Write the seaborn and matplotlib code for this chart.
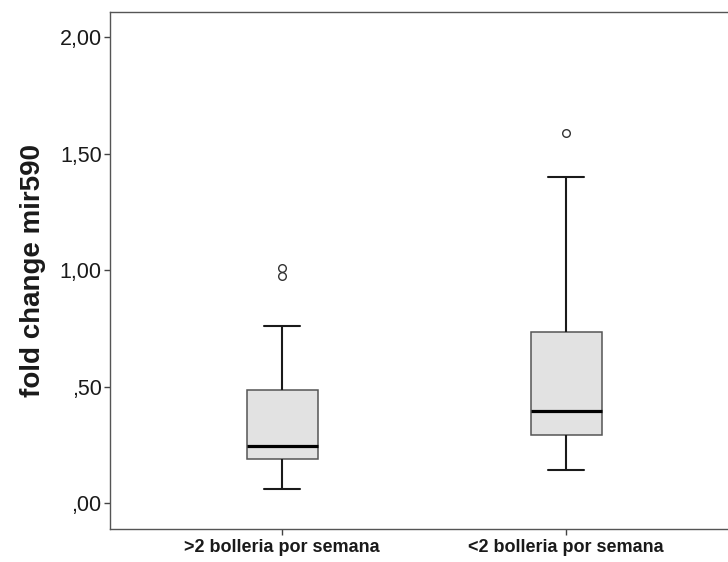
import numpy as np
import pandas as pd
import matplotlib
matplotlib.use("Agg")
import matplotlib.pyplot as plt
import seaborn as sns

# Groups on the x axis
groups = [">2 bolleria por semana", "<2 bolleria por semana"]

# Box summaries per group: lower whisker, Q1, median, Q3, upper whisker
whisker_low = [0.06, 0.142]
q1 = [0.189, 0.29]
median = [0.245, 0.395]
q3 = [0.485, 0.735]
whisker_high = [0.76, 1.40]
outliers = [[0.974, 1.009], [1.588]]

# Y axis ticks and their labels
y_ticks = [0.0, 0.5, 1.0, 1.5, 2.0]
y_tick_labels = [",00", ",50", "1,00", "1,50", "2,00"]


def expand(lo, a, m, b, hi, extra):
    """Sample whose Tukey box statistics equal the given summary."""
    return [lo] + [a] * 3 + [m] * 3 + [b] * 3 + [hi] + list(extra)


rows = []
for i, g in enumerate(groups):
    vals = expand(whisker_low[i], q1[i], median[i], q3[i], whisker_high[i], outliers[i])
    rows += [(g, v) for v in vals]
df = pd.DataFrame(rows, columns=["grupo", "fold"])

sns.set_style("white")
plt.rcParams["font.family"] = ["Liberation Sans", "DejaVu Sans"]

fig = plt.figure(figsize=(7.28, 5.62), dpi=100)
ax = fig.add_axes([110 / 728, 1 - 529 / 562, 630 / 728, (529 - 12) / 562])

sns.boxplot(
    data=df, x="grupo", y="fold", order=groups, ax=ax,
    width=0.25, whis=1.5, color="#e2e2e2", saturation=1,
    linewidth=1.2, linecolor="#444444",
    boxprops=dict(facecolor="#e2e2e2", edgecolor="#555555", linewidth=1.1),
    whiskerprops=dict(color="#1a1a1a", linewidth=1.5),
    capprops=dict(color="#1a1a1a", linewidth=1.5),
    medianprops=dict(color="black", linewidth=2.3),
    flierprops=dict(marker="o", markersize=5.5, markerfacecolor="white",
                    markeredgecolor="#333333", markeredgewidth=1.0),
)

ax.set_xlim(-172 / 284, 458 / 284)
ax.set_ylim(-26 / 233, 491 / 233)
ax.set_yticks(y_ticks)
ax.set_yticklabels(y_tick_labels, fontsize=15.5, color="#1a1a1a")
ax.set_xticks(range(len(groups)))
ax.set_xticklabels(groups, fontsize=13, fontweight="bold", color="#1a1a1a")
ax.set_xlabel("")
ax.set_ylabel("fold change mir590", fontsize=20, fontweight="bold",
              color="#1a1a1a", labelpad=10)

for s in ax.spines.values():
    s.set_color("#555555")
    s.set_linewidth(1.0)
    s.set_visible(True)
ax.tick_params(axis="both", direction="out", length=4.5, width=1.0,
               color="#444444", left=True, bottom=True)
ax.tick_params(axis="y", pad=1.5)
ax.tick_params(axis="x", pad=3)
ax.grid(False)

fig.savefig("out.png", dpi=100, facecolor="white")
